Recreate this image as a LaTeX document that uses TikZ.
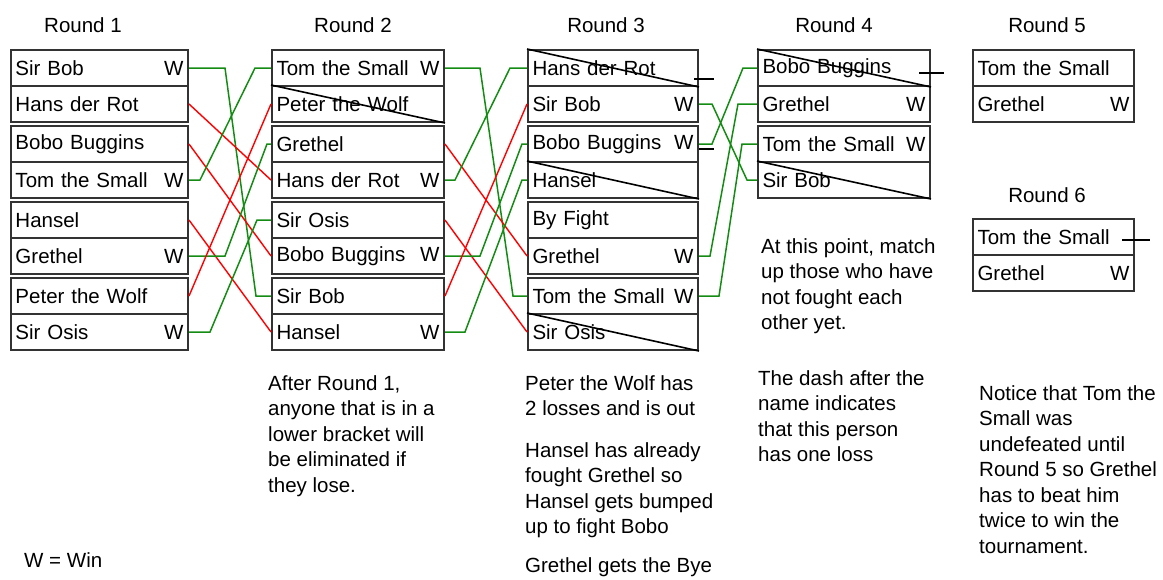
\documentclass[tikz,border=0pt]{standalone}
\usepackage{fontspec}
\setmainfont{Liberation Sans}
\definecolor{wingreen}{RGB}{20,140,20}

\tikzstyle{slot}=[draw=black!80, line width=2pt, minimum height=36pt, inner xsep=4.5pt, inner ysep=0pt, align=left, anchor=north west]
\tikzstyle{head}=[anchor=north, inner sep=0pt]
\tikzstyle{note}=[anchor=north west, inner sep=0pt, align=left]
\tikzstyle{win}=[draw=wingreen, line width=1.5pt]
\tikzstyle{lose}=[draw=red, line width=1.4pt]
\tikzstyle{struck}=[draw=black, line width=1.6pt]
\tikzstyle{lossdash}=[draw=black, line width=1.5pt]

\begin{document}
\begin{tikzpicture}[x=1pt, y=-1pt, font=\fontsize{20.5}{25.5}\selectfont]
\useasboundingbox (0,0) rectangle (1163,579);

\node[head] (t1) at (83,17) {Round 1};
\node[head] (t2) at (353,17) {Round 2};
\node[head] (t3) at (606,17) {Round 3};
\node[head] (t4) at (834,17) {Round 4};
\node[head] (t5) at (1047,17) {Round 5};
\node[head] (t6) at (1047,187) {Round 6};

% round 1
\begin{scope}[text width=168pt]
\node[slot] (a1) at (10,49) {Sir Bob\hfill W};
\node[slot] (a2) at (10,85) {Hans der Rot};
\node[slot] (a3) at (10,125) {Bobo Buggins};
\node[slot] (a4) at (10,161) {Tom the Small\hfill W};
\node[slot] (a5) at (10,201) {Hansel};
\node[slot] (a6) at (10,237) {Grethel\hfill W};
\node[slot] (a7) at (10,277) {Peter the Wolf};
\node[slot] (a8) at (10,313) {Sir Osis\hfill W};
\end{scope}

% round 2
\begin{scope}[text width=163pt]
\node[slot] (b1) at (271,49) {Tom the Small\hfill W};
\node[slot] (b2) at (271,85) {Peter the Wolf};
\node[slot] (b3) at (271,125) {Grethel};
\node[slot] (b4) at (271,161) {Hans der Rot\hfill W};
\node[slot] (b5) at (271,201) {Sir Osis};
\node[slot] (b6) at (271,237) {Bobo Buggins\hfill W};
\node[slot] (b7) at (271,277) {Sir Bob};
\node[slot] (b8) at (271,313) {Hansel\hfill W};
\end{scope}

% round 3
\begin{scope}[text width=161pt]
\node[slot] (c1) at (527,49) {Hans der Rot};
\node[slot] (c2) at (527,85) {Sir Bob\hfill W};
\node[slot] (c3) at (527,125) {Bobo Buggins\hfill W};
\node[slot] (c4) at (527,161) {Hansel};
\node[slot] (c5) at (527,201) {By Fight};
\node[slot] (c6) at (527,237) {Grethel\hfill W};
\node[slot] (c7) at (527,277) {Tom the Small\hfill W};
\node[slot] (c8) at (527,313) {Sir Osis};
\end{scope}

% round 4
\begin{scope}[text width=163pt]
\node[slot] (d1) at (757,49) {Bobo Buggins};
\node[slot] (d2) at (757,85) {Grethel\hfill W};
\node[slot] (d3) at (757,125) {Tom the Small\hfill W};
\node[slot] (d4) at (757,161) {Sir Bob};
\end{scope}

% rounds 5 and 6
\begin{scope}[text width=152pt]
\node[slot] (e1) at (972,49) {Tom the Small};
\node[slot] (e2) at (972,85) {Grethel\hfill W};
\node[slot] (f1) at (972,218) {Tom the Small};
\node[slot] (f2) at (972,254) {Grethel\hfill W};
\end{scope}

% round 1 -> round 2
\draw[win] (a1.east) -- ++(36,0) -- ([xshift=-15pt]b7.west) -- (b7.west);
\draw[lose] (a2.east) -- (b4.west);
\draw[lose] (a3.east) -- (b6.west);
\draw[win] (a4.east) -- ++(11,0) -- ([xshift=-16pt]b1.west) -- (b1.west);
\draw[lose] (a5.east) -- (b8.west);
\draw[win] (a6.east) -- ++(36,0) -- ([xshift=-4pt]b3.west) -- (b3.west);
\draw[lose] (a7.east) -- (b2.west);
\draw[win] (a8.east) -- ++(21,0) -- ([xshift=-14pt]b5.west) -- (b5.west);

% round 2 -> round 3
\draw[win] (b1.east) -- ++(35,0) -- ([xshift=-14pt]c7.west) -- (c7.west);
\draw[lose] (b3.east) -- (c6.west);
\draw[win] (b4.east) -- ++(10,0) -- ([xshift=-17pt]c1.west) -- (c1.west);
\draw[lose] (b5.east) -- (c8.west);
\draw[win] (b6.east) -- ++(35,0) -- ([xshift=-5pt]c3.west) -- (c3.west);
\draw[lose] (b7.east) -- (c2.west);
\draw[win] (b8.east) -- ++(20,0) -- ([xshift=-5pt]c4.west) -- (c4.west);

% round 3 -> round 4
\draw[win] (c2.east) -- ++(13,0) -- ([xshift=-10pt]d4.west) -- (d4.west);
\draw[win] (c3.east) -- ++(13,0) -- ([xshift=-14pt]d1.west) -- (d1.west);
\draw[win] (c6.east) -- ++(11,0) -- ([xshift=-19pt]d2.west) -- (d2.west);
\draw[win] (c7.east) -- ++(20,0) -- ([xshift=-15pt]d3.west) -- (d3.west);

% out of the tournament
\draw[struck] (b2.north west) -- (b2.south east);
\draw[struck] (c1.north west) -- (c1.south east);
\draw[struck] (c4.north west) -- (c4.south east);
\draw[struck] (c8.north west) -- (c8.south east);
\draw[struck] (d1.north west) -- (d1.south east);
\draw[struck] (d4.north west) -- (d4.south east);

% one loss
\draw[lossdash] ([shift={(-5pt,-11pt)}]c1.east) -- ++(20,0);
\draw[lossdash] ([yshift=-5pt]c3.east) -- ++(15,0);
\draw[lossdash] ([shift={(-12pt,-5pt)}]d1.east) -- ++(25,0);
\draw[lossdash] ([shift={(-13pt,-3pt)}]f1.east) -- ++(28,0);

\node[note] (n1) at (268,375) {After Round 1,\\anyone that is in a\\lower bracket will\\be eliminated if\\they lose.};
\node[note] (n2) at (525,375) {Peter the Wolf has\\2 losses and is out};
\node[note] (n3) at (525,442) {Hansel has already\\fought Grethel so\\Hansel gets bumped\\up to fight Bobo};
\node[note] (n4) at (525,557) {Grethel gets the Bye};
\node[note] (n5) at (761,238) {At this point, match\\up those who have\\not fought each\\other yet.};
\node[note] (n6) at (758,370) {The dash after the\\name indicates\\that this person\\has one loss};
\node[note] (n7) at (979,385) {Notice that Tom the\\Small was\\undefeated until\\Round 5 so Grethel\\has to beat him\\twice to win the\\tournament.};
\node[note] (n8) at (24,552) {W = Win};
\end{tikzpicture}
\end{document}
